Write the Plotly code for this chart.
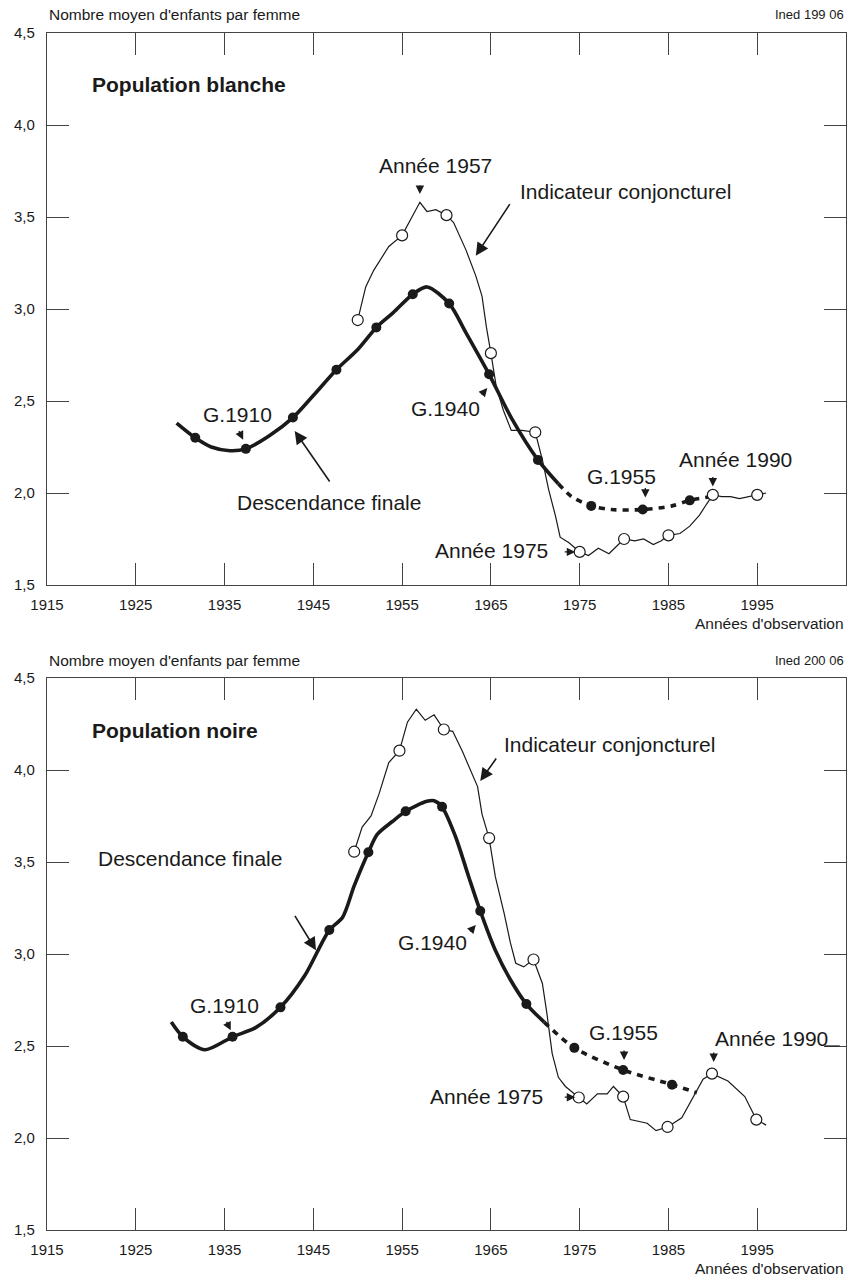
import plotly.graph_objects as go

W, H = 851, 1283
FONT = "Liberation Sans, Arial, sans-serif"
INK = "#1a1a1a"

x_ticks = [1915, 1925, 1935, 1945, 1955, 1965, 1975, 1985, 1995]
y_ticks = [1.5, 2.0, 2.5, 3.0, 3.5, 4.0, 4.5]

# ---------------- Population blanche ----------------
ic_w_x = [1950, 1950.9, 1951.8, 1952.6, 1953.5, 1955, 1955.9, 1957, 1957.8, 1958.8,
          1960, 1960.8, 1962.2, 1963.3, 1964.0, 1964.5, 1965, 1965.6, 1966.4, 1967.3,
          1968.5, 1970, 1970.8, 1971.5, 1972.3, 1972.8, 1973.8, 1974.5, 1975, 1976,
          1977.1, 1978.3, 1979.2, 1980, 1981.2, 1982.2, 1983.3, 1984.2, 1985, 1986.3,
          1987.4, 1988.5, 1989.3, 1990, 1991, 1992, 1993, 1994, 1995, 1996]
ic_w_y = [2.94, 3.12, 3.21, 3.27, 3.34, 3.40, 3.48, 3.58, 3.53, 3.54,
          3.51, 3.47, 3.32, 3.18, 3.07, 2.90, 2.76, 2.58, 2.45, 2.34,
          2.34, 2.33, 2.18, 2.02, 1.87, 1.76, 1.73, 1.70, 1.68, 1.66,
          1.70, 1.67, 1.71, 1.75, 1.74, 1.75, 1.72, 1.74, 1.77, 1.78,
          1.82, 1.88, 1.94, 1.99, 1.98, 1.98, 1.97, 1.98, 1.99, 2.00]
ic_w_mark_x = [1950, 1955, 1960, 1965, 1970, 1975, 1980, 1985, 1990, 1995]
ic_w_mark_y = [2.94, 3.40, 3.51, 2.76, 2.33, 1.68, 1.75, 1.77, 1.99, 1.99]

df_w_x = [1929.6, 1931.7, 1933.5, 1935.6, 1937.4, 1940, 1942.7, 1945, 1947.6, 1950,
          1952.1, 1954, 1956.2, 1957.8, 1960.3, 1962.2, 1964.8, 1967.4, 1970.3, 1972.6]
df_w_y = [2.38, 2.30, 2.25, 2.23, 2.24, 2.31, 2.41, 2.53, 2.67, 2.78,
          2.90, 2.98, 3.08, 3.12, 3.03, 2.87, 2.645, 2.40, 2.18, 2.05]
df_w_proj_x = [1972.6, 1974.1, 1976.3, 1978.6, 1982.1, 1985.4, 1987.4, 1989.8]
df_w_proj_y = [2.05, 1.98, 1.93, 1.91, 1.91, 1.93, 1.96, 1.98]
df_w_dot_x = [1931.7, 1937.4, 1942.7, 1947.6, 1952.1, 1956.2, 1960.3, 1964.8,
              1970.3, 1976.3, 1982.1, 1987.4]
df_w_dot_y = [2.30, 2.24, 2.41, 2.67, 2.90, 3.08, 3.03, 2.645, 2.18, 1.93, 1.91, 1.96]

# ---------------- Population noire ----------------
ic_b_x = [1949.6, 1950.5, 1951.5, 1952.4, 1953.5, 1954.7, 1955.6, 1956.6, 1957.6, 1958.6,
          1959.7, 1960.7, 1961.8, 1963.5, 1964.0, 1964.8, 1965.5, 1966.5, 1967.2, 1967.8,
          1968.7, 1969.8, 1970.8, 1971.3, 1971.9, 1972.6, 1973.4, 1974.9, 1975.8, 1977.0,
          1978.1, 1978.8, 1979.9, 1980.7, 1981.6, 1982.6, 1983.6, 1984.9, 1986.5, 1988.0,
          1988.9, 1989.9, 1991.7, 1993.6, 1994.9, 1996.0]
ic_b_y = [3.556, 3.69, 3.75, 3.87, 4.04, 4.105, 4.26, 4.33, 4.27, 4.30,
          4.22, 4.21, 4.10, 3.91, 3.76, 3.63, 3.42, 3.22, 3.06, 2.95,
          2.93, 2.97, 2.84, 2.68, 2.46, 2.33, 2.28, 2.22, 2.185, 2.24,
          2.24, 2.28, 2.225, 2.10, 2.09, 2.08, 2.04, 2.06, 2.11, 2.24,
          2.32, 2.35, 2.31, 2.225, 2.10, 2.07]
ic_b_mark_x = [1949.6, 1954.7, 1959.7, 1964.8, 1969.8, 1974.9, 1979.9, 1984.9, 1989.9, 1994.9]
ic_b_mark_y = [3.556, 4.105, 4.22, 3.63, 2.97, 2.22, 2.225, 2.06, 2.35, 2.10]

df_b_x = [1929, 1930.3, 1932.8, 1935.9, 1938.5, 1941.3, 1944, 1946.8, 1948.3, 1949.6,
          1951.2, 1952.2, 1953.9, 1955.4, 1957.8, 1958.6, 1959.5, 1961.0, 1962.5, 1963.8,
          1965.5, 1967.2, 1969.0, 1971.0]
df_b_y = [2.63, 2.55, 2.48, 2.55, 2.60, 2.71, 2.88, 3.13, 3.20, 3.37,
          3.553, 3.65, 3.72, 3.776, 3.83, 3.833, 3.80, 3.64, 3.42, 3.234,
          3.02, 2.86, 2.728, 2.63]
df_b_proj_x = [1971.0, 1974.4, 1979.9, 1985.4, 1988.2]
df_b_proj_y = [2.63, 2.49, 2.37, 2.29, 2.246]
df_b_dot_x = [1930.3, 1935.9, 1941.3, 1946.8, 1951.2, 1955.4, 1959.5, 1963.8,
              1969.0, 1974.4, 1979.9, 1985.4]
df_b_dot_y = [2.55, 2.55, 2.71, 3.13, 3.553, 3.776, 3.80, 3.234, 2.728, 2.49, 2.37, 2.29]

fig = go.Figure()


def add_panel(xa, ya, ic_x, ic_y, icm_x, icm_y, df_x, df_y, pr_x, pr_y, dd_x, dd_y):
    fig.add_trace(go.Scatter(x=ic_x, y=ic_y, mode="lines", xaxis=xa, yaxis=ya,
                             line=dict(color=INK, width=1.2), showlegend=False, hoverinfo="skip"))
    fig.add_trace(go.Scatter(x=df_x, y=df_y, mode="lines", xaxis=xa, yaxis=ya,
                             line=dict(color=INK, width=3.6, shape="spline", smoothing=0.8),
                             showlegend=False, hoverinfo="skip"))
    fig.add_trace(go.Scatter(x=pr_x, y=pr_y, mode="lines", xaxis=xa, yaxis=ya,
                             line=dict(color=INK, width=3.6, dash="6px,6px", shape="spline",
                                       smoothing=0.8),
                             showlegend=False, hoverinfo="skip"))
    fig.add_trace(go.Scatter(x=icm_x, y=icm_y, mode="markers", xaxis=xa, yaxis=ya,
                             marker=dict(size=11, color="white", line=dict(color=INK, width=1.2)),
                             showlegend=False, hoverinfo="skip"))
    fig.add_trace(go.Scatter(x=dd_x, y=dd_y, mode="markers", xaxis=xa, yaxis=ya,
                             marker=dict(size=10, color=INK), showlegend=False, hoverinfo="skip"))


add_panel("x", "y", ic_w_x, ic_w_y, ic_w_mark_x, ic_w_mark_y, df_w_x, df_w_y,
          df_w_proj_x, df_w_proj_y, df_w_dot_x, df_w_dot_y)
add_panel("x2", "y2", ic_b_x, ic_b_y, ic_b_mark_x, ic_b_mark_y, df_b_x, df_b_y,
          df_b_proj_x, df_b_proj_y, df_b_dot_x, df_b_dot_y)

L, R = 47, 846
top_dom = [1 - 585 / H, 1 - 33 / H]
bot_dom = [1 - 1230 / H, 1 - 678 / H]

axis_common = dict(showline=True, linecolor="#444", linewidth=1.2, mirror="ticks",
                   ticks="inside", ticklen=22, tickwidth=1, tickcolor="#444",
                   showgrid=False, zeroline=False, automargin=False,
                   tickfont=dict(family=FONT, size=15, color=INK))
xaxis_common = dict(axis_common, range=[1915, 2005], tickvals=x_ticks,
                    ticktext=[str(v) for v in x_ticks], ticklabelstandoff=6)
yaxis_common = dict(axis_common, range=[1.5, 4.5], tickvals=y_ticks, tickformat=".1f",
                    ticklabelstandoff=8)

fig.update_layout(
    width=W, height=H, margin=dict(l=0, r=0, t=0, b=0, autoexpand=False),
    paper_bgcolor="white", plot_bgcolor="white", separators=", ",
    xaxis=dict(xaxis_common, domain=[L / W, R / W], anchor="y"),
    yaxis=dict(yaxis_common, domain=top_dom, anchor="x"),
    xaxis2=dict(xaxis_common, domain=[L / W, R / W], anchor="y2"),
    yaxis2=dict(yaxis_common, domain=bot_dom, anchor="x2"),
)

ann = []


def txt(text, x, y, xref, yref, size=21, xanchor="center", bold=False):
    ann.append(dict(text=f"<b>{text}</b>" if bold else text, x=x, y=y, xref=xref, yref=yref,
                    showarrow=False, xanchor=xanchor, yanchor="middle",
                    font=dict(family=FONT, size=size, color=INK)))


def arrow(x, y, ax, ay, xref, yref, size=1.3, head=2, width=1.3):
    ann.append(dict(text="", x=x, y=y, xref=xref, yref=yref, ax=ax, ay=ay,
                    axref="pixel", ayref="pixel", showarrow=True, arrowhead=head,
                    arrowsize=size, arrowwidth=width, arrowcolor=INK))


def paper_y(py):
    return 1 - py / H


# headers / footers
for off, code in ((0, "Ined 199 06"), (645, "Ined 200 06")):
    txt("Nombre moyen d'enfants par femme", L / W, paper_y(15 + off), "paper", "paper",
        size=15.5, xanchor="left")
    txt(code, R / W, paper_y(15 + off), "paper", "paper", size=13, xanchor="right")
    txt("Années d'observation", R / W, paper_y(623 + off), "paper", "paper",
        size=15.5, xanchor="right")

# top panel annotations
txt("Population blanche", 90 / W, paper_y(84), "paper", "paper", size=21,
    xanchor="left", bold=True)
txt("Année 1957", 1958.8, 3.78, "x", "y")
arrow(1957.0, 3.625, 0, -10, "x", "y")
txt("Indicateur conjoncturel", 1968.05, 3.636, "x", "y", xanchor="left")
arrow(1963.3, 3.29, 35, -53, "x", "y", size=1.6, head=2, width=1.6)
txt("G.1910", 1936.5, 2.424, "x", "y")
arrow(1937.1, 2.29, -5, -10, "x", "y")
txt("Descendance finale", 1946.8, 1.95, "x", "y")
arrow(1942.9, 2.337, 36, 52, "x", "y", size=1.6, width=1.6)
txt("G.1940", 1959.9, 2.457, "x", "y")
arrow(1964.6, 2.57, -7, 8, "x", "y")
txt("G.1955", 1979.7, 2.087, "x", "y")
arrow(1982.4, 1.975, 0, -11, "x", "y")
txt("Année 1975", 1971.66, 1.685, "x", "y", xanchor="right")
arrow(1974.5, 1.68, -12, 0, "x", "y")
txt("Année 1990", 1985.96, 2.18, "x", "y", xanchor="left")
arrow(1990.0, 2.035, 0, -11, "x", "y")

# bottom panel annotations
txt("Population noire", 90 / W, paper_y(730), "paper", "paper", size=21,
    xanchor="left", bold=True)
txt("Indicateur conjoncturel", 1966.25, 4.141, "x2", "y2", xanchor="left")
arrow(1963.8, 3.94, 17, -24, "x2", "y2", size=1.6, width=1.6)
txt("Descendance finale", 1931.1, 3.52, "x2", "y2")
arrow(1945.3, 3.02, -22, -36, "x2", "y2", size=1.6, width=1.6)
txt("G.1910", 1935.0, 2.72, "x2", "y2")
arrow(1935.7, 2.585, -5, -10, "x2", "y2")
txt("G.1940", 1958.4, 3.06, "x2", "y2")
arrow(1963.3, 3.158, -7, 8, "x2", "y2")
txt("G.1955", 1979.9, 2.571, "x2", "y2")
arrow(1980.0, 2.424, 0, -11, "x2", "y2")
txt("Année 1975", 1971.1, 2.227, "x2", "y2", xanchor="right")
arrow(1974.5, 2.222, -12, 0, "x2", "y2")
txt("Année 1990", 1990.0, 2.543, "x2", "y2", xanchor="left")
arrow(1990.1, 2.413, 0, -11, "x2", "y2")

fig.update_layout(annotations=ann)
fig.add_shape(type="line", xref="x2", yref="y2", x0=2002.6, x1=2004.3, y0=2.50, y1=2.50,
              line=dict(color=INK, width=1.2))

fig.write_html("out.html", config={"displayModeBar": False},
               post_script="document.body.style.margin='0px';"
                           "document.body.style.padding='0px';"
                           "document.body.style.overflow='hidden';"
                           "document.documentElement.style.overflow='hidden';")
